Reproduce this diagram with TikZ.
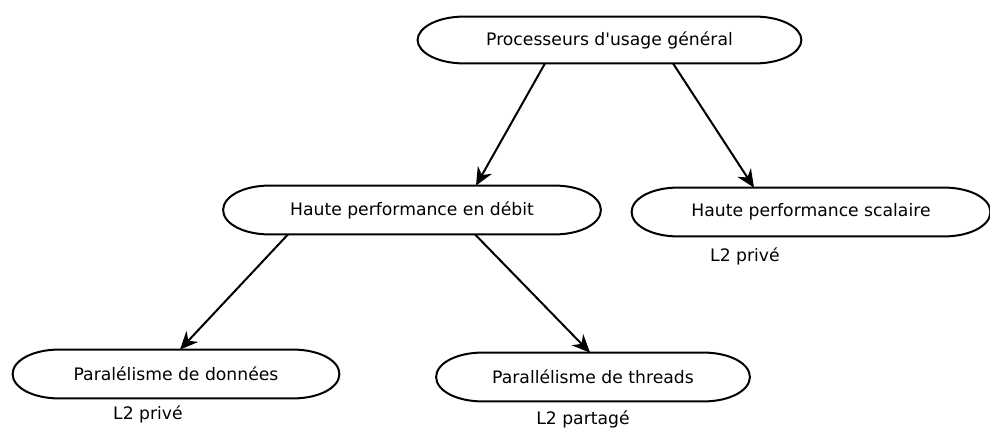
\documentclass[tikz,border=0pt]{standalone}
\usepackage{fontspec}
\setmainfont{DejaVu Sans}
\usetikzlibrary{calc,positioning,arrows.meta}

\begin{document}
\begin{tikzpicture}[x=0.5pt, y=-0.5pt, >={Stealth[length=9pt, width=8pt]},
  proc/.style={rectangle, minimum height=24pt, inner sep=0pt, font=\fontsize{8.6}{10}\selectfont},
  lbl/.style={font=\fontsize{8.6}{10}\selectfont}]

    \useasboundingbox (0,0) rectangle (990,428);

    \node[proc, minimum width=191.5pt, minimum height=23pt] (gen)   at (609.5,40) {Processeurs d\textquotesingle usage général};
    \node[proc, minimum width=188.5pt] (debit) at (412,210) {Haute performance en débit};
    \node[proc, minimum width=179pt]   (scal)  at (811,212) {Haute performance scalaire};
    \node[proc, minimum width=163pt]   (donn)  at (176,374) {Paralélisme de données};
    \node[proc, minimum width=156.5pt] (thr)   at (593,377) {Parallélisme de threads};

    % flat capsule outlines
    \foreach \n in {gen,debit,scal,donn,thr}
      \draw[line width=1pt] ($(\n.north west)+(46,0)$) -- ($(\n.north east)+(-46,0)$)
        .. controls ($(\n.north east)+(-20.6,0)$) and ($(\n.north east)+(0,10.7)$) .. (\n.east)
        .. controls ($(\n.south east)+(0,-10.7)$) and ($(\n.south east)+(-20.6,0)$) .. ($(\n.south east)+(-46,0)$)
        -- ($(\n.south west)+(46,0)$)
        .. controls ($(\n.south west)+(20.6,0)$) and ($(\n.south west)+(0,-10.7)$) .. (\n.west)
        .. controls ($(\n.north west)+(0,10.7)$) and ($(\n.north west)+(20.6,0)$) .. cycle;

    \node[lbl] (scall2) at (745,256) {L2 privé};
    \node[lbl] (donnl2) at (148,414) {L2 privé};
    \node[lbl] (thrl2)  at (583,419) {L2 partagé};

    \draw[->, line width=1pt] ($(gen.south) + (-64.5,0)$) -- ($(debit.north) + (64,0)$);
    \draw[->, line width=1pt] ($(gen.south) + (63.5,0)$) -- ($(scal.north) + (-57,0)$);

    \draw[->, line width=1pt] ($(debit.south) + (-124,0)$) -- ($(donn.north) + (4,0)$);
    \draw[->, line width=1pt] ($(debit.south) + (63,0)$) -- ($(thr.north) + (-3,0)$);

\end{tikzpicture}
\end{document}
